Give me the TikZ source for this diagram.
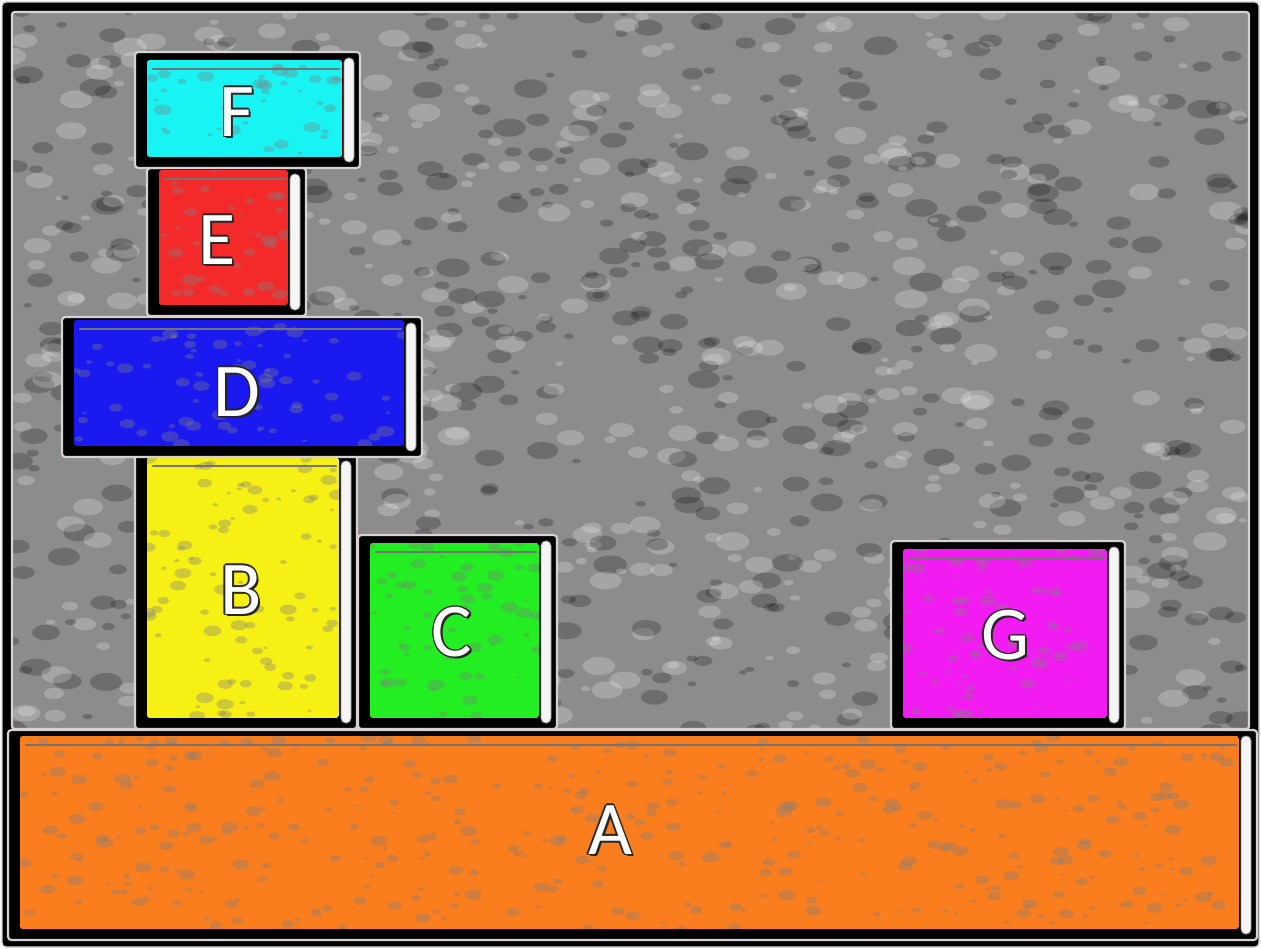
\documentclass[tikz,border=0pt]{standalone}
\usepackage{fontspec}
\setmainfont{Carlito}
\usetikzlibrary{fit}
\definecolor{frameline}{HTML}{D9D2D2}
\definecolor{bgbase}{HTML}{8C8C8C}
\definecolor{cF}{HTML}{18F4F4}
\definecolor{cE}{HTML}{F42A2A}
\definecolor{cD}{HTML}{1A1AF0}
\definecolor{cB}{HTML}{F6F015}
\definecolor{cC}{HTML}{22EE22}
\definecolor{cG}{HTML}{F21CF2}
\definecolor{cA}{HTML}{FA7E1E}
\tikzset{
  blkouter/.style={draw=frameline, line width=1.6pt, fill=black, rounded corners=2.5pt, inner sep=0pt},
  topline/.style={draw=black!55, line width=1.8pt, line cap=round},
  hilite/.style={fill=white!96!black, draw=black!40, line width=0.6pt, rounded corners=3.5pt},
  lblfont/.style={font=\fontsize{57}{57}\selectfont, inner sep=0pt},
}
\newcommand\blk[7]{%
  \node[blkouter, fit={(#2,#3)(#4,#5)}] (#1) {};
  \pgfmathsetmacro\fxa{#2+12}\pgfmathsetmacro\fya{#3+#6}%
  \pgfmathsetmacro\fxb{#4-18}\pgfmathsetmacro\fyb{#5-11}%
  \begin{scope}
    \clip[rounded corners=2pt] (\fxa,\fya) rectangle (\fxb,\fyb);
    \fill[#7] (\fxa,\fya) rectangle (\fxb,\fyb);
    \pgfmathtruncatemacro\nn{((#4-#2)/70)*((#5-#3)/10)}%
    \foreach \i in {1,...,\nn}{%
      \pgfmathsetmacro\px{\fxa+rnd*(\fxb-\fxa)}%
      \pgfmathsetmacro\py{\fya+rnd*(\fyb-\fya)}%
      \pgfmathsetmacro\rr{2+rnd*7}%
      \fill[black!50, opacity=0.35] (\px,\py) ellipse [x radius=\rr, y radius=0.6*\rr];
    }
  \end{scope}
  \draw[topline] (\fxa+6,\fya+9) -- (\fxb-3,\fya+9);
  \fill[hilite] (#4-16,#3+6) rectangle (#4-6,#5-6);
}
\newcommand\lbl[4]{%
  \foreach \dx/\dy [count=\k] in {-1.4/0,1.4/0,0/-1.4,0/1.4,-1/-1,1/-1,-1/1,1/1,2/2}{%
    \node[lblfont, text=black!85] (#1o\k) at (#2+\dx,#3+\dy) {#4};}
  \node[lblfont, text=white] (#1) at (#2,#3) {#4};
}
\begin{document}
\begin{tikzpicture}[x=0.75pt,y=-0.75pt]
\useasboundingbox (0,0) rectangle (1261,949);
\fill[white] (0,0) rectangle (1261,949);
\fill[black, draw=frameline, line width=1pt, rounded corners=3pt] (2,2) rectangle (1259,947);
% textured background
\pgfmathsetseed{11}
\begin{scope}
  \clip (12,12) rectangle (1249,729);
  \fill[bgbase] (12,12) rectangle (1249,729);
  \foreach \i in {1,...,1100}{%
    \pgfmathsetmacro\px{10+rnd*1242}%
    \pgfmathsetmacro\py{10+rnd*722}%
    \pgfmathsetmacro\rr{4+rnd*13}%
    \pgfmathtruncatemacro\cc{rnd>0.5 ? 100 : 0}%
    \fill[white!\cc!black, opacity=0.22] (\px,\py) ellipse [x radius=\rr, y radius=0.55*\rr];
  }
\end{scope}
\draw[frameline, line width=1.6pt, rounded corners=2pt] (12,12) rectangle (1249,729);
% blocks
\blk{blkA}{8}{730}{1257}{940}{6}{cA}
\blk{blkB}{135}{455}{357}{729}{2}{cB}
\blk{blkC}{358}{535}{557}{729}{8}{cC}
\blk{blkG}{891}{541}{1125}{729}{8}{cG}
\blk{blkD}{62}{317}{422}{457}{3}{cD}
\blk{blkE}{147}{168}{306}{316}{2}{cE}
\blk{blkF}{135}{52}{360}{168}{8}{cF}
% labels
\lbl{A}{610}{830}{A}
\lbl{B}{241}{590}{B}
\lbl{C}{452}{632}{C}
\lbl{G}{1005}{635}{G}
\lbl{D}{237}{392}{D}
\lbl{E}{217}{240}{E}
\lbl{F}{237}{112}{F}
\end{tikzpicture}
\end{document}
